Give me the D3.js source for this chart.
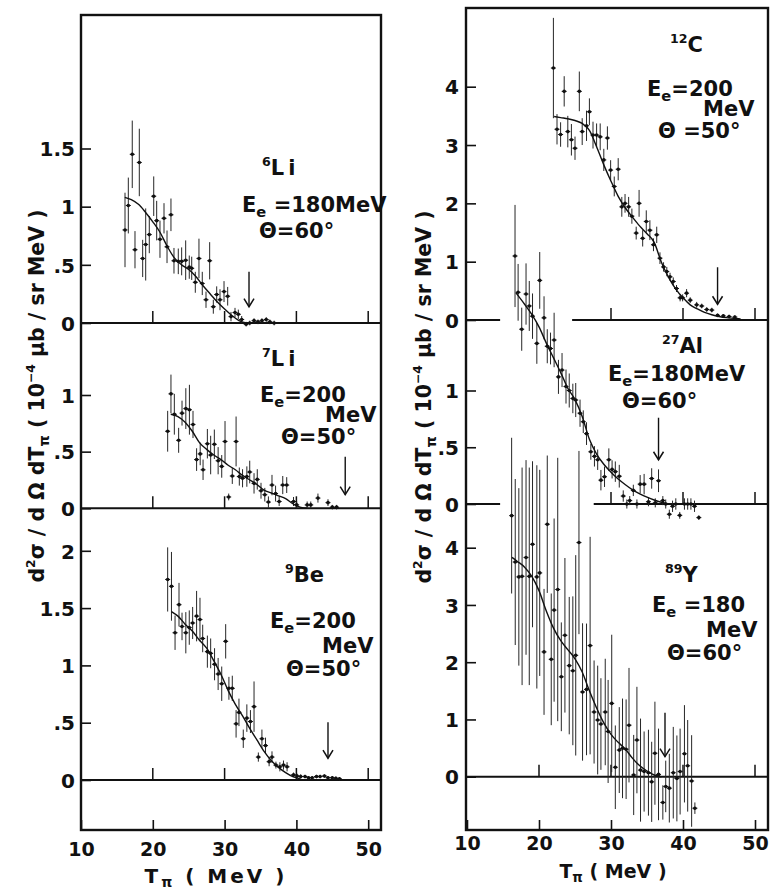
<!DOCTYPE html>
<html>
<head>
<meta charset="utf-8">
<script src="https://cdn.jsdelivr.net/npm/d3@7"></script>
<style>
  html, body { margin: 0; padding: 0; background: #fff; }
  svg { display: block; }
  text { font-family: "DejaVu Sans", Verdana, sans-serif; font-weight: bold; fill: #111; }
</style>
</head>
<body>
<svg id="chart" width="773" height="893"></svg>
<script>
// ---- x axis (pion kinetic energy, MeV) ----
const xTickValues = [10, 20, 30, 40, 50];
const xTickLabels = ["10", "20", "30", "40", "50"];

// ---- y ticks per panel ----
const li6Ticks = [0, 0.5, 1, 1.5];        const li6TickLabels = ["0", ".5", "1", "1.5"];
const li7Ticks = [0, 0.5, 1];             const li7TickLabels = ["0", ".5", "1"];
const be9Ticks = [0, 0.5, 1, 1.5, 2];     const be9TickLabels = ["0", ".5", "1", "1.5", "2"];
const c12Ticks = [0, 1, 2, 3, 4];         const c12TickLabels = ["0", "1", "2", "3", "4"];
const al27Ticks = [0, 0.5, 1];            const al27TickLabels = ["0", ".5", "1"];
const y89Ticks = [0, 1, 2, 3, 4];         const y89TickLabels = ["0", "1", "2", "3", "4"];

// ---- measured points: [T_pi (MeV), cross section, error] ----
const li6Points = [
  [16.13,0.80,0.32],[16.59,1.01,0.24],[17.14,1.45,0.29],[17.52,0.63,0.16],[18.12,1.38,0.29],
  [18.59,0.555,0.16],[19.01,0.675,0.31],[19.51,0.76,0.16],[20.13,1.09,0.17],[20.54,0.88,0.17],
  [21.0,0.72,0.16],[21.56,0.90,0.13],[21.98,0.655,0.14],[22.53,0.93,0.14],[22.95,0.535,0.11],
  [23.55,0.53,0.11],[24.02,0.53,0.12],[24.58,0.54,0.17],[25.08,0.48,0.10],[25.42,0.47,0.10],
  [25.92,0.35,0.09],[26.43,0.555,0.17],[26.89,0.34,0.10],[27.41,0.20,0.07],[27.92,0.535,0.16],
  [28.43,0.14,0.06],[28.9,0.245,0.07],[29.36,0.20,0.09],[29.92,0.27,0.09],[30.43,0.23,0.08],
  [30.89,0.055,0.04],[31.45,0.09,0.04],[31.91,0.075,0.04],[32.38,0.03,0.03],[33.0,-0.01,0.02],
  [33.5,0.0,0.02],[34.1,0.02,0.02],[34.65,0.01,0.02],[35.2,0.02,0.02],[35.8,0.03,0.02],
  [36.3,0.01,0.02],[36.9,0.0,0.02]
];
const li7Points = [
  [22.07,0.68,0.18],[22.53,1.01,0.17],[23.0,0.83,0.18],[23.6,0.60,0.11],[24.07,0.84,0.11],
  [24.6,0.88,0.18],[25.1,0.87,0.22],[25.6,0.74,0.12],[26.1,0.43,0.10],[26.6,0.48,0.10],
  [27.0,0.34,0.09],[27.6,0.57,0.13],[28.06,0.47,0.17],[28.57,0.565,0.13],[29.1,0.42,0.12],
  [29.6,0.37,0.10],[30.06,0.59,0.18],[30.57,0.10,0.03],[31.07,0.285,0.07],[31.6,0.59,0.22],
  [32.05,0.28,0.08],[32.5,0.265,0.08],[33.1,0.28,0.09],[33.5,0.32,0.10],[34.1,0.22,0.09],
  [34.55,0.255,0.09],[35.07,0.155,0.07],[35.6,0.12,0.06],[36.1,0.055,0.05],[36.6,0.205,0.09],
  [37.1,0.13,0.07],[37.6,0.06,0.04],[38.1,0.205,0.08],[38.65,0.205,0.07],[39.6,0.06,0.04],
  [40.04,0.03,0.03],[41.5,0.03,0.03],[42.0,0.03,0.03],[43.0,0.09,0.04],[44.4,0.05,0.03],
  [45.0,0.01,0.02],[45.6,0.01,0.02]
];
const be9Points = [
  [22.07,1.75,0.28],[22.6,1.69,0.30],[23.1,1.285,0.15],[23.65,1.53,0.19],[24.07,1.34,0.12],
  [24.6,1.285,0.18],[25.08,1.33,0.15],[25.55,1.37,0.14],[26.1,1.43,0.22],[26.57,1.40,0.19],
  [26.95,1.235,0.12],[27.6,1.12,0.14],[28.06,1.105,0.13],[28.6,1.01,0.14],[29.1,0.925,0.14],
  [29.6,0.84,0.15],[30.15,1.21,0.15],[30.6,0.80,0.10],[31.07,0.80,0.11],[31.6,0.49,0.12],
  [32.0,0.59,0.12],[32.6,0.36,0.08],[33.1,0.54,0.12],[33.6,0.51,0.10],[34.1,0.64,0.22],
  [34.7,0.20,0.04],[35.2,0.36,0.08],[35.7,0.30,0.07],[36.2,0.16,0.04],[36.6,0.20,0.05],
  [37.15,0.13,0.03],[37.7,0.115,0.04],[38.2,0.13,0.04],[38.7,0.115,0.04],[39.6,0.045,0.02],
  [40.1,0.035,0.02],[40.6,0.03,0.02],[41.2,0.03,0.015],[41.7,0.02,0.015],[42.2,0.02,0.015],
  [42.8,0.03,0.015],[43.3,0.03,0.015],[43.9,0.035,0.015],[44.4,0.02,0.015],[45.0,0.02,0.015],
  [45.5,0.015,0.015],[46.0,0.01,0.015]
];
const c12Points = [
  [22.0,4.32,0.86],[22.5,3.27,0.26],[23.0,3.18,0.21],[23.5,3.92,0.26],[24.0,3.23,0.27],
  [24.5,3.09,0.27],[25.0,2.945,0.20],[25.6,3.92,0.34],[26.0,3.23,0.23],[26.6,3.33,0.26],
  [27.0,3.57,0.23],[27.5,3.17,0.23],[28.0,3.17,0.20],[28.5,3.14,0.23],[29.0,2.745,0.19],
  [29.5,3.12,0.20],[29.95,2.57,0.17],[30.45,2.29,0.17],[31.0,2.585,0.19],[31.5,1.94,0.17],
  [31.95,2.0,0.16],[32.45,1.94,0.17],[32.9,1.78,0.13],[33.5,1.49,0.11],[33.9,2.0,0.23],
  [34.4,1.40,0.14],[34.9,1.69,0.19],[35.4,1.54,0.17],[35.9,1.29,0.11],[36.35,1.46,0.14],
  [36.8,1.06,0.10],[37.3,0.91,0.08],[37.75,0.83,0.08],[38.2,0.74,0.07],[38.65,0.66,0.07],
  [39.1,0.54,0.06],[39.6,0.38,0.06],[39.95,0.38,0.06],[40.5,0.46,0.07],[41.0,0.34,0.05],
  [41.9,0.26,0.05],[42.6,0.24,0.04],[43.3,0.18,0.04],[44.0,0.17,0.04],[44.8,0.08,0.03],
  [45.6,0.07,0.03],[46.4,0.06,0.03],[47.2,0.05,0.03]
];
const al27Points = [
  [16.67,2.185,0.45],[17.1,1.865,0.25],[17.6,1.54,0.19],[18.2,1.85,0.27],[18.65,1.745,0.22],
  [19.1,1.655,0.20],[19.7,1.415,0.18],[20.1,1.97,0.25],[20.7,1.64,0.19],[21.15,1.39,0.15],
  [21.6,1.37,0.14],[22.1,1.445,0.24],[22.7,1.12,0.15],[23.2,1.18,0.15],[23.75,1.035,0.15],
  [24.2,1.0,0.15],[24.7,0.93,0.13],[25.1,0.916,0.15],[25.7,0.80,0.12],[26.15,0.725,0.10],
  [26.6,0.62,0.10],[27.2,0.46,0.07],[27.7,0.42,0.09],[28.15,0.39,0.09],[28.6,0.21,0.09],
  [29.1,0.24,0.09],[29.7,0.39,0.10],[30.15,0.305,0.08],[30.6,0.285,0.09],[31.15,0.245,0.10],
  [31.7,0.07,0.05],[32.2,0.0,0.04],[32.6,0.03,0.04],[33.1,0.12,0.05],[33.6,0.0,0.04],
  [34.05,0.175,0.08],[34.6,0.175,0.09],[35.2,0.02,0.04],[35.65,0.225,0.09],[36.15,0.01,0.04],
  [36.6,0.205,0.10],[37.2,0.03,0.04],[37.6,0.0,0.04],[38.1,-0.09,0.04],[38.55,-0.02,0.05],
  [39.0,0.0,0.05],[39.55,-0.10,0.03],[40.2,0.0,0.05],[40.65,0.0,0.05],[41.1,0.0,0.05],
  [41.6,-0.02,0.05],[42.2,-0.12,0.02]
];
const y89Points = [
  [16.2,4.56,1.36],[16.7,3.75,1.45],[17.2,3.49,1.55],[17.65,3.50,1.9],[18.2,3.83,1.7],
  [18.65,3.50,1.9],[19.1,4.06,1.45],[19.7,3.49,1.95],[20.1,3.56,1.8],[20.7,2.18,1.1],
  [21.15,4.41,1.2],[21.7,2.05,1.15],[22.1,2.91,1.6],[22.6,3.27,2.3],[23.1,1.745,0.95],
  [23.6,2.47,1.35],[24.2,1.94,1.2],[24.7,1.85,1.3],[25.1,2.12,1.75],[25.55,4.09,1.6],
  [26.05,1.48,1.2],[26.6,1.525,1.15],[27.1,2.29,1.9],[27.65,1.13,0.9],[28.15,0.99,0.95],
  [28.6,0.92,0.8],[29.2,1.13,0.93],[29.6,0.79,0.9],[30.1,1.28,1.2],[30.6,0.165,0.73],
  [31.15,0.465,0.75],[31.6,0.495,0.87],[32.1,0.48,0.87],[32.5,0.90,1.0],[33.15,0.03,0.7],
  [33.6,0.64,0.93],[34.1,0.115,0.9],[34.6,0.09,0.7],[35.2,0.07,0.75],[35.65,-0.09,0.7],
  [36.1,0.41,0.9],[36.6,0.04,0.8],[37.2,-0.45,0.3],[37.6,-0.17,0.45],[38.1,-0.2,0.6],
  [38.65,0.07,0.8],[39.15,-0.03,0.75],[39.6,0.09,0.75],[40.2,0.40,0.85],[40.65,0.19,0.8],
  [41.2,-0.075,0.8],[41.65,-0.55,0.1]
];

// ---- fitted curves: [T_pi, cross section] ----
const li6Curve = [[16.1,1.08],[17,1.06],[18,1.02],[19,0.95],[20,0.87],[21,0.78],[22,0.66],[23,0.56],
  [24,0.5],[25,0.46],[26,0.40],[27,0.32],[28,0.25],[29,0.18],[30,0.12],[31,0.065],[32,0.02],[33,0.0]];
const li7Curve = [[22.5,0.83],[23.5,0.81],[24.5,0.76],[25.5,0.68],[26.5,0.58],[27.5,0.52],[28.5,0.47],
  [29.5,0.43],[30.5,0.38],[31.5,0.34],[32.5,0.29],[33.5,0.25],[34.5,0.21],[35.5,0.16],[36.5,0.135],
  [37.5,0.11],[38.5,0.085],[39.5,0.04],[40.5,0.01],[41.5,0.0]];
const be9Curve = [[22.6,1.47],[23.5,1.43],[24.5,1.36],[25.5,1.30],[26.5,1.22],[27.5,1.15],[28.5,1.04],
  [29.5,0.92],[30.5,0.78],[31.5,0.66],[32.5,0.56],[33.5,0.45],[34.5,0.35],[35.5,0.25],[36.5,0.17],
  [37.5,0.11],[38.5,0.065],[39.5,0.03],[40.5,0.01]];
const c12Curve = [[22.1,3.49],[23,3.47],[24,3.45],[25,3.42],[26,3.37],[27,3.25],[28,2.97],[29,2.66],
  [30,2.38],[31,2.12],[32,1.92],[33,1.76],[34,1.61],[35,1.48],[36,1.33],[37,0.99],[38,0.73],[39,0.53],
  [40,0.38],[41,0.26],[42,0.19],[43,0.13],[44,0.09],[45,0.06],[46,0.04],[47,0.03],[48,0.02]];
const al27Curve = [[16.8,1.86],[18,1.76],[19,1.67],[20,1.56],[21,1.42],[22,1.29],[23,1.16],[24,1.02],
  [25,0.92],[26,0.77],[27,0.57],[28,0.44],[29,0.35],[30,0.28],[31,0.22],[32,0.17],[33,0.125],[34,0.09],
  [35,0.06],[36,0.035],[37,0.015],[38,0.0]];
const y89Curve = [[16.25,3.83],[17,3.76],[18,3.66],[19,3.5],[20,3.25],[21,2.9],[22,2.6],[23,2.38],
  [24,2.22],[25,2.06],[26,1.83],[27,1.5],[28,1.2],[29,0.94],[30,0.74],[31,0.6],[32,0.48],[33,0.32],
  [34,0.19],[35,0.1],[36,0.03],[37,0.0]];

// ---- threshold arrows: [T_pi, value at arrow tip] ----
const li6Arrow = [33.4, 0.14];
const li7Arrow = [46.8, 0.12];
const be9Arrow = [44.4, 0.19];
const c12Arrow = [44.8, 0.27];
const al27Arrow = [36.6, 0.39];
const y89Arrow = [37.5, 0.35];

// ---------------------------------------------------------------
const svg = d3.select("#chart");
const INK = "#111";

const columns = [
  { frame: { x0: 81, y0: 15, x1: 381, y1: 830 }, xRange: [81, 368.2], tickPad: 6, xLabelPad: 13,
    xTitle: { x: 216, y: 883, size: 20, spacing: 3 }, yTitle: { x: 44, y: 396 } },
  { frame: { x0: 466, y0: 8, x1: 768, y1: 830 }, xRange: [467, 755], tickPad: 7, xLabelPad: 7,
    xTitle: { x: 613, y: 878, size: 19, spacing: 0 }, yTitle: { x: 431, y: 397 } }
];

const panels = [
  { col: 0, yDomain: [0, 1.5], yRange: [323, 148.5], ticks: li6Ticks, tickLabels: li6TickLabels,
    points: li6Points, curve: li6Curve, arrow: li6Arrow, arrowLen: 35,
    zeroSegs: [[10, 51.8]], zeroTicks: [20, 30, 40, 50],
    notes: [
      { x: 262, y: 175, parts: [{ sup: "6" }, { t: "Li", ls: 4 }] },
      { x: 242, y: 212, parts: ["E", { sub: "e" }, " =180MeV"] },
      { x: 259, y: 238, parts: ["Θ=60°"] } ] },
  { col: 0, yDomain: [0, 1], yRange: [508.3, 395], ticks: li7Ticks, tickLabels: li7TickLabels,
    points: li7Points, curve: li7Curve, arrow: li7Arrow, arrowLen: 38,
    zeroSegs: [[10, 51.8]], zeroTicks: [20, 30, 40, 50],
    notes: [
      { x: 262, y: 366, parts: [{ sup: "7" }, { t: "Li", ls: 4 }] },
      { x: 260, y: 402, parts: ["E", { sub: "e" }, "=200"] },
      { x: 325, y: 422, parts: ["MeV"] },
      { x: 281, y: 444, parts: ["Θ=50°"] } ] },
  { col: 0, yDomain: [0, 2], yRange: [780, 550.8], ticks: be9Ticks, tickLabels: be9TickLabels,
    points: be9Points, curve: be9Curve, arrow: be9Arrow, arrowLen: 36,
    zeroSegs: [[10, 51.8]], zeroTicks: [20, 30, 40, 50],
    notes: [
      { x: 285, y: 582, parts: [{ sup: "9" }, "Be"] },
      { x: 270, y: 628, parts: ["E", { sub: "e" }, "=200"] },
      { x: 322, y: 653, parts: ["MeV"] },
      { x: 286, y: 676, parts: ["Θ=50°"] } ] },
  { col: 1, yDomain: [0, 4], yRange: [320, 86.7], ticks: c12Ticks, tickLabels: c12TickLabels,
    points: c12Points, curve: c12Curve, arrow: c12Arrow, arrowLen: 37,
    zeroSegs: [[10, 14.6], [24.6, 51.8]], zeroTicks: [30, 40, 50],
    notes: [
      { x: 670, y: 52, parts: [{ sup: "12" }, "C"] },
      { x: 647, y: 96, parts: ["E", { sub: "e" }, "=200"] },
      { x: 703, y: 116, parts: ["MeV"] },
      { x: 658, y: 138, parts: ["Θ =50°"] } ] },
  { col: 1, yDomain: [0, 1], yRange: [504, 390.5], ticks: al27Ticks, tickLabels: al27TickLabels,
    points: al27Points, curve: al27Curve, arrow: al27Arrow, arrowLen: 42,
    zeroSegs: [[10, 14.6], [27.6, 51.8]], zeroTicks: [30, 40, 50],
    notes: [
      { x: 662, y: 353, parts: [{ sup: "27" }, "Al"] },
      { x: 608, y: 381, parts: ["E", { sub: "e" }, "=180MeV"] },
      { x: 622, y: 408, parts: ["Θ=60°"] } ] },
  { col: 1, yDomain: [0, 4], yRange: [776.7, 547.7], ticks: y89Ticks, tickLabels: y89TickLabels,
    points: y89Points, curve: y89Curve, arrow: y89Arrow, arrowLen: 44,
    zeroSegs: [[10, 51.8]], zeroTicks: [20, 30, 40, 50],
    notes: [
      { x: 665, y: 582, parts: [{ sup: "89" }, "Y"] },
      { x: 652, y: 612, parts: ["E", { sub: "e" }, " =180"] },
      { x: 706, y: 637, parts: ["MeV"] },
      { x: 667, y: 660, parts: ["Θ=60°"] } ] }
];

// text with superscript / subscript runs
function rich(sel, x, y, parts, size, spacing) {
  const t = sel.append("text").attr("x", x).attr("y", y).attr("font-size", size);
  if (spacing) t.attr("letter-spacing", spacing);
  let cur = 0;
  parts.forEach(p => {
    let txt, off = 0, fs = size, ls = null;
    if (typeof p === "string") { txt = p; }
    else if (p.t !== undefined) { txt = p.t; ls = p.ls; }
    else if (p.sup !== undefined) { txt = p.sup; off = -0.42 * size; fs = 0.6 * size; }
    else { txt = p.sub; off = 0.22 * size; fs = 0.7 * size; }
    const ts = t.append("tspan").attr("dy", off - cur).attr("font-size", fs).text(txt);
    if (ls) ts.attr("letter-spacing", ls);
    cur = off;
  });
  return t;
}

const xScales = columns.map(c => d3.scaleLinear().domain([10, 50]).range(c.xRange));

// clip regions = column frames
const defs = svg.append("defs");
columns.forEach((c, i) => {
  defs.append("clipPath").attr("id", "clip" + i).append("rect")
    .attr("x", c.frame.x0).attr("y", c.frame.y0)
    .attr("width", c.frame.x1 - c.frame.x0).attr("height", c.frame.y1 - c.frame.y0);
});

// columns: frame, bottom axis, axis titles
columns.forEach((c, i) => {
  const g = svg.append("g");
  const f = c.frame;
  const x = xScales[i];

  const xAxis = d3.axisBottom(x).tickValues(xTickValues)
    .tickFormat((d, k) => xTickLabels[k]).tickSize(-10).tickPadding(c.xLabelPad);
  g.append("g").attr("transform", `translate(0,${f.y1})`).call(xAxis)
    .attr("font-family", null).attr("font-size", null)
    .call(a => a.select(".domain").remove())
    .call(a => a.selectAll("line").attr("stroke", INK).attr("stroke-width", 1.6))
    .call(a => a.selectAll("text").attr("font-size", 19).attr("fill", INK));

  g.append("rect").attr("x", f.x0).attr("y", f.y0)
    .attr("width", f.x1 - f.x0).attr("height", f.y1 - f.y0)
    .attr("fill", "none").attr("stroke", INK).attr("stroke-width", 2.4);

  // x title
  rich(g, c.xTitle.x, c.xTitle.y, ["T", { sub: "π" }, " ( MeV )"], c.xTitle.size, c.xTitle.spacing)
    .attr("text-anchor", "middle");

  // y title
  rich(g, 0, 0,
    ["d", { sup: "2" }, "σ / d Ω dT", { sub: "π" }, " ( 10", { sup: "−4" }, " μb / sr MeV )"], 20.5)
    .attr("text-anchor", "middle")
    .attr("transform", `translate(${c.yTitle.x},${c.yTitle.y}) rotate(-90)`);
});

// panels
panels.forEach(p => {
  const c = columns[p.col];
  const x = xScales[p.col];
  const y = d3.scaleLinear().domain(p.yDomain).range(p.yRange);
  const g = svg.append("g");

  // left axis with inward ticks
  const yAxis = d3.axisLeft(y).tickValues(p.ticks)
    .tickFormat((d, k) => p.tickLabels[k]).tickSize(-10).tickPadding(c.tickPad);
  g.append("g").attr("transform", `translate(${c.frame.x0},0)`).call(yAxis)
    .attr("font-family", null).attr("font-size", null)
    .call(a => a.select(".domain").remove())
    .call(a => a.selectAll("line").attr("stroke", INK).attr("stroke-width", 1.6))
    .call(a => a.selectAll("text").attr("font-size", 20).attr("fill", INK).attr("dy", "0.36em"));

  // zero line(s) with upward ticks
  p.zeroSegs.forEach(s => {
    g.append("line").attr("x1", x(s[0])).attr("x2", x(s[1]))
      .attr("y1", y(0)).attr("y2", y(0)).attr("stroke", INK).attr("stroke-width", 2);
  });
  g.selectAll(".zt").data(p.zeroTicks).join("line")
    .attr("x1", d => x(d)).attr("x2", d => x(d))
    .attr("y1", y(0)).attr("y2", y(0) - 12)
    .attr("stroke", INK).attr("stroke-width", 1.5);

  const dg = g.append("g").attr("clip-path", `url(#clip${p.col})`);

  // error bars
  dg.selectAll(".eb").data(p.points).join("line")
    .attr("x1", d => x(d[0])).attr("x2", d => x(d[0]))
    .attr("y1", d => y(d[1] - d[2])).attr("y2", d => y(d[1] + d[2]))
    .attr("stroke", "#262626").attr("stroke-width", 1);
  // points
  dg.selectAll(".pt").data(p.points).join("circle")
    .attr("cx", d => x(d[0])).attr("cy", d => y(d[1])).attr("r", 1.8).attr("fill", INK);
  dg.selectAll(".ph").data(p.points).join("line")
    .attr("x1", d => x(d[0]) - 2.5).attr("x2", d => x(d[0]) + 2.5)
    .attr("y1", d => y(d[1])).attr("y2", d => y(d[1]))
    .attr("stroke", INK).attr("stroke-width", 1);

  // fitted curve
  dg.append("path").datum(p.curve)
    .attr("d", d3.line().x(d => x(d[0])).y(d => y(d[1])).curve(d3.curveMonotoneX))
    .attr("fill", "none").attr("stroke", INK).attr("stroke-width", 1.4);

  // threshold arrow
  const ax = x(p.arrow[0]), ay = y(p.arrow[1]);
  g.append("line").attr("x1", ax).attr("x2", ax).attr("y1", ay - p.arrowLen).attr("y2", ay)
    .attr("stroke", INK).attr("stroke-width", 1.4);
  g.append("path").attr("d", `M${ax - 5},${ay - 8}L${ax},${ay}L${ax + 5},${ay - 8}`)
    .attr("fill", "none").attr("stroke", INK).attr("stroke-width", 1.5);

  // target and kinematics
  p.notes.forEach(n => rich(g, n.x, n.y, n.parts, 21));
});
</script>
</body>
</html>
